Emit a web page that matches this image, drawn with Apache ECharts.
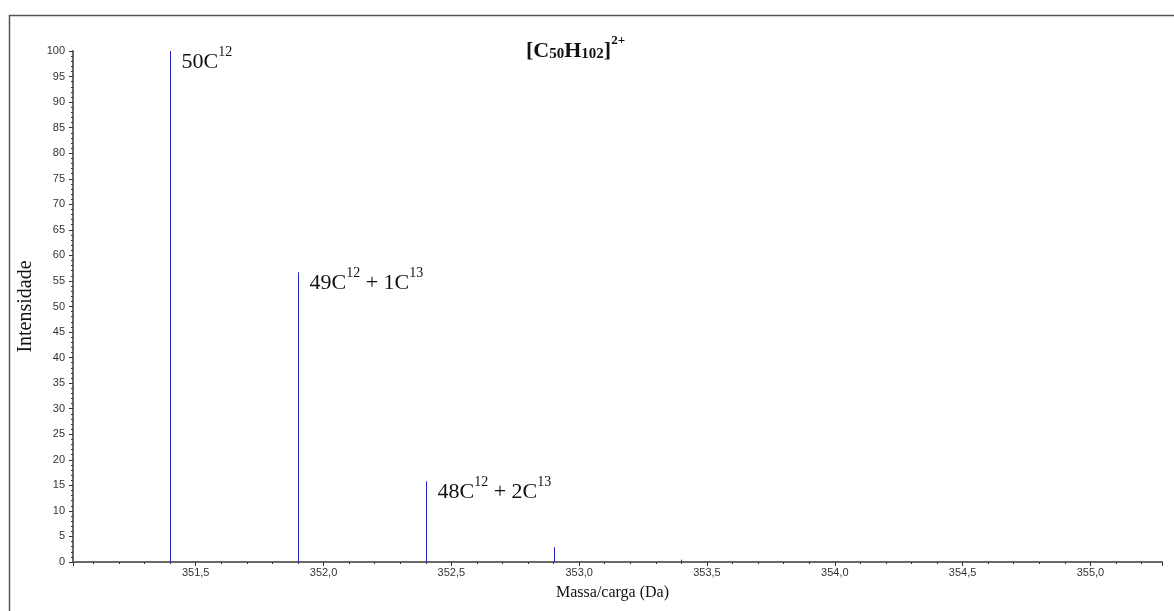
<!DOCTYPE html>
<html>
<head>
<meta charset="utf-8">
<script src="https://cdn.jsdelivr.net/npm/echarts@6/dist/echarts.min.js"></script>
<style>html,body{margin:0;padding:0;background:#fff;}#c{width:1174px;height:611px;}</style>
</head>
<body>
<div id="c"></div>
<script>
// m/z positions of isotope peaks
const masses = [351.4, 351.9, 352.4, 352.9, 353.4, 353.9, 354.4, 354.9];
// relative intensities (%)
const intensities = [100, 56.7, 15.8, 2.9, 0.45, 0.05, 0.01, 0.002];
// peak annotations (rich text)
const peakLabels = [
  '{n|50C}{s|12}',
  '{n|49C}{s|12}{n| + 1C}{s|13}',
  '{n|48C}{s|12}{n| + 2C}{s|13}',
  '', '', '', '', ''
];
const titleText = '{b|[C}{sub|50}{b|H}{sub|102}{b|]}{sup|2+}';
const xName = 'Massa/carga (Da)';
const yName = 'Intensidade';

const chart = echarts.init(document.getElementById('c'), null, {renderer: 'canvas'});

const richLbl = {
  n: {fontFamily: 'Liberation Serif', fontSize: 22, fill: '#111', lineHeight: 28, verticalAlign: 'bottom'},
  s: {fontFamily: 'Liberation Serif', fontSize: 14, fill: '#111', lineHeight: 14, verticalAlign: 'top'}
};
const lineColor = '#2626c4';

const option = {
  animation: false,
  backgroundColor: '#fff',
  title: {
    text: titleText,
    left: 521,
    top: 29,
    textStyle: {
      rich: {
        b: {fontFamily: 'Liberation Serif', fontWeight: 'bold', fontSize: 22, color: '#111', lineHeight: 28, verticalAlign: 'bottom'},
        sub: {fontFamily: 'Liberation Serif', fontWeight: 'bold', fontSize: 15, color: '#111', lineHeight: 21, verticalAlign: 'bottom'},
        sup: {fontFamily: 'Liberation Serif', fontWeight: 'bold', fontSize: 13, color: '#111', lineHeight: 13, verticalAlign: 'top'}
      }
    }
  },
  graphic: [{
    type: 'rect', left: 7, top: 13, silent: true, z: -1,
    shape: {x: 0, y: 0, width: 1200, height: 700},
    style: {fill: 'none', stroke: '#555', lineWidth: 1.5}
  }],
  grid: {left: 73, top: 51, right: 12, bottom: 49, containLabel: false},
  xAxis: {
    type: 'value',
    min: 351.02,
    max: 355.28,
    minInterval: 0.5,
    maxInterval: 0.5,
    splitNumber: 9,
    name: xName,
    nameLocation: 'middle',
    nameGap: 23,
    nameTextStyle: {fontFamily: 'Liberation Serif', fontSize: 16, color: '#111', padding: [0, 10, 0, 0]},
    axisLine: {show: true, onZero: false, lineStyle: {color: '#6a6a6a', width: 2}},
    axisTick: {show: true, length: 4, lineStyle: {color: '#333', width: 1}},
    minorTick: {show: true, splitNumber: 5, length: 2, lineStyle: {color: '#333', width: 1}},
    splitLine: {show: false},
    axisLabel: {
      fontFamily: 'Liberation Sans', fontSize: 11, color: '#333', margin: 5,
      formatter: v => {
        const r = Math.round(v * 10) / 10;
        if (Math.abs(r * 2 - Math.round(r * 2)) > 1e-6 || Math.abs(v - r) > 1e-6) return '';
        return r.toFixed(1).replace('.', ',');
      }
    }
  },
  yAxis: {
    type: 'value',
    min: 0,
    max: 100,
    interval: 5,
    name: yName,
    nameLocation: 'middle',
    nameGap: 30,
    nameTextStyle: {fontFamily: 'Liberation Serif', fontSize: 20, color: '#111'},
    axisLine: {show: true, lineStyle: {color: '#6a6a6a', width: 2}},
    axisTick: {show: true, length: 4, lineStyle: {color: '#333', width: 1}},
    minorTick: {show: true, splitNumber: 5, length: 2, lineStyle: {color: '#333', width: 1}},
    splitLine: {show: false},
    axisLabel: {fontFamily: 'Liberation Sans', fontSize: 11, color: '#333', margin: 8}
  },
  series: [{
    type: 'custom',
    coordinateSystem: 'cartesian2d',
    data: masses.map((m, i) => [m, intensities[i]]),
    renderItem: (params, api) => {
      const m = api.value(0), v = api.value(1);
      const p0 = api.coord([m, 0]);
      const p1 = api.coord([m, v]);
      const x = Math.round(p0[0]) + 0.5;
      const children = [{
        type: 'line',
        shape: {x1: x, y1: p0[1], x2: x, y2: p1[1]},
        style: {stroke: lineColor, lineWidth: 1}
      }];
      const lbl = peakLabels[params.dataIndex];
      if (lbl) {
        children.push({
          type: 'text',
          x: x + 11,
          y: p1[1] - 6,
          style: {text: lbl, rich: richLbl, align: 'left', verticalAlign: 'top', fill: '#111'}
        });
      }
      return {type: 'group', children: children};
    }
  }]
};
chart.setOption(option);
</script>
</body>
</html>
